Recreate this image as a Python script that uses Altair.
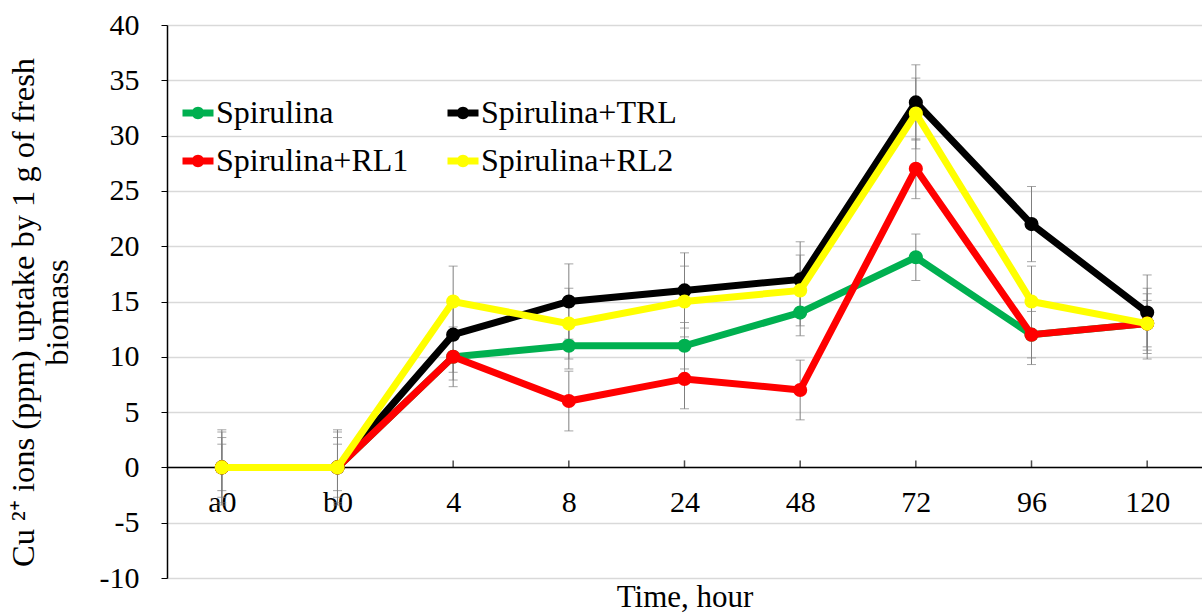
import altair as alt
import pandas as pd

categories = ["a0", "b0", "4", "8", "24", "48", "72", "96", "120"]
series_names = ["Spirulina", "Spirulina+TRL", "Spirulina+RL1", "Spirulina+RL2"]
spirulina = [0, 0, 10, 11, 11, 14, 19, 12, 13]
spirulina_trl = [0, 0, 12, 15, 16, 17, 33, 22, 14]
spirulina_rl1 = [0, 0, 10, 6, 8, 7, 27, 12, 13]
spirulina_rl2 = [0, 0, 15, 13, 15, 16, 32, 15, 13]
errors = [2.1, 3.4, 2.7, 3.2]
colors = ["#00b050", "#000000", "#ff0000", "#ffff00"]

values = [spirulina, spirulina_trl, spirulina_rl1, spirulina_rl2]
rows = []
for name, vals, err in zip(series_names, values, errors):
    for c, v in zip(categories, vals):
        rows.append({"time": c, "series": name, "value": v, "lo": v - err, "hi": v + err})
df = pd.DataFrame(rows)
cat_df = pd.DataFrame({"time": categories})

# legend lays entries out column by column
legend_order = [series_names[0], series_names[2], series_names[1], series_names[3]]
legend_colors = [colors[series_names.index(n)] for n in legend_order]

FONT = "Liberation Serif"

x_enc = alt.X(
    "time:N",
    sort=categories,
    scale=alt.Scale(type="point", padding=0.474),
    axis=alt.Axis(
        orient="bottom",
        offset=-111,
        title="Time, hour",
        titleFont=FONT,
        titleFontSize=31,
        titleFontWeight="normal",
        titleColor="black",
        titleY=139,
        titleBaseline="alphabetic",
        labelFont=FONT,
        labelFontSize=30,
        labelColor="black",
        labelAngle=0,
        labelPadding=20,
        ticks=False,
        tickSize=0,
        domainColor="black",
        domainWidth=1.5,
        grid=False,
    ),
)
y_scale = alt.Scale(domain=[-10, 40], nice=False, zero=False)
y_axis = alt.Axis(
    values=list(range(-10, 45, 5)),
    labelExpr="'' + datum.value",
    title=["Cu \u00b2\u207a ions (ppm) uptake by 1 g of fresh", "biomass"],
    titleFont=FONT,
    titleFontSize=32.5,
    titleFontWeight="normal",
    titleColor="black",
    titleLineHeight=34,
    titleX=-134,
    titleY=287,
    titleBaseline="alphabetic",
    titleAngle=270,
    labelFont=FONT,
    labelFontSize=30,
    labelColor="black",
    labelPadding=22,
    tickSize=6,
    tickColor="black",
    domainColor="black",
    domainWidth=1.5,
    grid=True,
    gridColor="#d9d9d9",
    gridWidth=1.5,
)

color_scale = alt.Scale(domain=legend_order, range=legend_colors)
legend = alt.Legend(
    title=None,
    orient="none",
    legendX=15,
    legendY=72,
    columns=2,
    columnPadding=38,
    rowPadding=16,
    labelFont=FONT,
    labelFontSize=32,
    labelColor="black",
    labelLimit=400,
    labelOffset=2,
    symbolType="M-1,-0.22 L1,-0.22 L1,0.22 L-1,0.22 Z M-0.4,0 A0.4,0.4 0 1,1 0.4,0 A0.4,0.4 0 1,1 -0.4,0 Z",
    symbolSize=961,
    symbolStrokeWidth=0,
    symbolOpacity=1,
)
color_enc = alt.Color("series:N", scale=color_scale, legend=legend)

base = alt.Chart(df)
layers = []
# upward category ticks on the zero axis line
layers.append(
    alt.Chart(cat_df)
    .mark_tick(orient="vertical", color="black", size=7, thickness=1.5, yOffset=-3.5)
    .encode(x=x_enc, y=alt.Y(datum=0, scale=y_scale, axis=y_axis))
)
layers.append(
    base.mark_rule(color="#7f7f7f", strokeWidth=1).encode(
        x=x_enc, y=alt.Y("lo:Q", scale=y_scale, axis=y_axis), y2="hi:Q"
    )
)
layers.append(base.mark_tick(color="#7f7f7f", thickness=1, size=9).encode(x=x_enc, y="lo:Q"))
layers.append(base.mark_tick(color="#7f7f7f", thickness=1, size=9).encode(x=x_enc, y="hi:Q"))

for i, name in enumerate(series_names):
    sub = base.transform_filter(alt.datum.series == name)
    layers.append(
        sub.mark_line(strokeWidth=7).encode(x=x_enc, y="value:Q", color=color_enc)
    )
    layers.append(
        sub.mark_point(filled=True, size=200, opacity=1).encode(
            x=x_enc, y="value:Q", color=color_enc
        )
    )

chart = (
    alt.layer(*layers)
    .properties(
        width=1035,
        height=553,
        autosize=alt.AutoSizeParams(type="none"),
        padding={"left": 167, "top": 25, "right": 0, "bottom": 36},
    )
    .configure_view(stroke=None)
    .configure(background="white")
)

chart.save("out.html", embed_options={"renderer": "svg", "actions": False})
